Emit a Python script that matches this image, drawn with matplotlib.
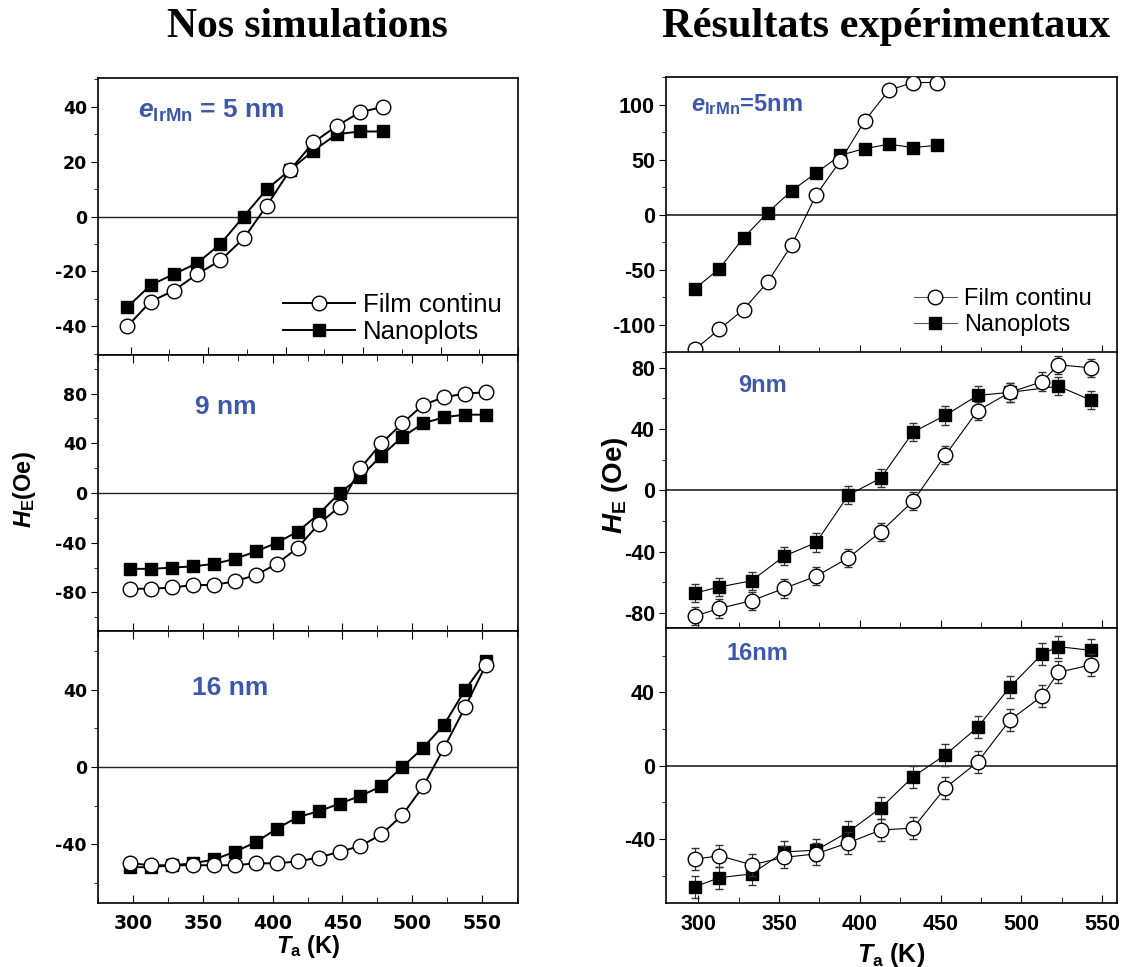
import numpy as np
import matplotlib
matplotlib.use("Agg")
from matplotlib import pyplot as plt
from matplotlib.ticker import MultipleLocator

plt.rcParams['mathtext.fontset'] = 'custom'
plt.rcParams['mathtext.bf'] = 'Liberation Sans:bold'
plt.rcParams['mathtext.bfit'] = 'Liberation Sans:italic:bold'
plt.rcParams['mathtext.it'] = 'Liberation Sans:italic:bold'
plt.rcParams['mathtext.rm'] = 'Liberation Sans:bold'
plt.rcParams['axes.unicode_minus'] = False

BLUE = '#3c58a8'

# --- simulations (left column) ---
t_sim5 = [298, 313, 328, 343, 358, 373, 388, 403, 418, 433, 448, 463]
sim5_film = [-40, -31, -27, -21, -16, -8, 4, 17, 27, 33, 38, 40]
sim5_nano = [-33, -25, -21, -17, -10, 0, 10, 17, 24, 30, 31, 31]

t_sim = [298, 313, 328, 343, 358, 373, 388, 403, 418, 433, 448, 463,
         478, 493, 508, 523, 538, 553]
sim9_film = [-77, -77, -76, -74, -74, -71, -66, -57, -44, -25, -11, 20,
             40, 56, 71, 77, 80, 81]
sim9_nano = [-61, -61, -60, -59, -57, -53, -47, -40, -31, -17, 0, 13,
             30, 45, 56, 61, 63, 63]
sim16_film = [-50, -51, -51, -51, -51, -51, -50, -50, -49, -47, -44, -41,
              -35, -25, -10, 10, 31, 53]
sim16_nano = [-52, -52, -51, -50, -48, -44, -39, -32, -26, -23, -19, -15,
              -10, 0, 10, 22, 40, 55]

# --- experiments (right column) ---
t_exp5 = [298, 313, 328, 343, 358, 373, 388, 403, 418, 433, 448]
exp5_film = [-122, -104, -86, -61, -27, 18, 49, 85, 113, 120, 120]
exp5_nano = [-67, -49, -21, 2, 22, 38, 54, 60, 64, 61, 63]

t_exp = [298, 313, 333, 353, 373, 393, 413, 433, 453, 473, 493, 513, 523, 543]
exp9_film = [-82, -77, -72, -64, -56, -44, -27, -7, 23, 52, 64, 71, 82, 80]
t_exp9_nano = [298, 313, 333, 353, 373, 393, 413, 433, 453, 473, 493, 523, 543]
exp9_nano = [-67, -63, -59, -43, -34, -3, 8, 38, 49, 62, 64, 68, 59]
exp16_film = [-51, -49, -54, -50, -48, -42, -35, -34, -12, 2, 25, 38, 51, 55]
exp16_nano = [-66, -61, -59, -47, -46, -36, -23, -6, 6, 21, 43, 61, 65, 63]
err_exp = 6

fig = plt.figure(figsize=(11.21, 9.67), dpi=100)
H = 967.0
W = 1121.0


def box(x0, x1, y0, y1):
    return [x0 / W, 1 - y1 / H, (x1 - x0) / W, (y1 - y0) / H]


lx0, lx1 = 98, 518
rx0, rx1 = 666, 1117
axL = [fig.add_axes(box(lx0, lx1, 78, 355)),
       fig.add_axes(box(lx0, lx1, 355, 631)),
       fig.add_axes(box(lx0, lx1, 631, 903))]
axR = [fig.add_axes(box(rx0, rx1, 77, 352.5)),
       fig.add_axes(box(rx0, rx1, 352.5, 628.3)),
       fig.add_axes(box(rx0, rx1, 628.3, 903.3))]

sim_line = dict(color='black', lw=1.4)
circ_l = dict(marker='o', ms=10.5, mfc='white', mec='black', mew=1.0)
sq_l = dict(marker='s', ms=9, mfc='black', mec='black', mew=1.0)

ylims_L = [(-50.5, 50.5), (-111, 111), (-70.6, 70.6)]
ymaj_L = [20, 40, 40]
ymin_L = [10, 20, 20]
sim_data = [(t_sim5, sim5_film, sim5_nano), (t_sim, sim9_film, sim9_nano),
            (t_sim, sim16_film, sim16_nano)]

for i, ax in enumerate(axL):
    t, f, n = sim_data[i]
    ax.axhline(0, color='#222222', lw=1.0, zorder=1)
    ax.plot(t, f, label='Film continu', zorder=3, **sim_line, **circ_l)
    ax.plot(t, n, label='Nanoplots', zorder=2, **sim_line, **sq_l)
    ax.set_ylim(*ylims_L[i])
    ax.yaxis.set_major_locator(MultipleLocator(ymaj_L[i]))
    ax.yaxis.set_minor_locator(MultipleLocator(ymin_L[i]))
    ax.xaxis.set_major_locator(MultipleLocator(50))
    ax.xaxis.set_minor_locator(MultipleLocator(25))
    ax.tick_params(axis='y', which='both', direction='out', left=True, right=False)
    ax.tick_params(axis='y', which='major', length=5, labelsize=12.5, pad=3)
    ax.tick_params(axis='y', which='minor', length=3)
    ax.tick_params(axis='x', which='both', direction='in', bottom=True, top=(i > 0))
    ax.tick_params(axis='x', which='major', length=6, labelsize=13.5, pad=8)
    ax.tick_params(axis='x', which='minor', length=4)
    for lab in ax.get_yticklabels() + ax.get_xticklabels():
        lab.set_fontweight('bold')
        lab.set_family('DejaVu Sans')
    for s in ax.spines.values():
        s.set_linewidth(1.2)
    if i < 2:
        ax.tick_params(axis='x', labelbottom=False)

axL[0].set_xlim(279, 550)
axL[1].set_xlim(274.7, 576)
axL[2].set_xlim(274.7, 576)

leg = axL[0].legend(loc='lower right', bbox_to_anchor=(1.0, -0.02), frameon=False,
                    fontsize=18.5, handlelength=2.8, handletextpad=0.3,
                    labelspacing=0.1, borderaxespad=0.25)
for txt in leg.get_texts():
    txt.set_family('Liberation Sans')

axL[0].text(0.095, 0.88, r'$\mathbfit{e}_{\mathbf{IrMn}}$' + ' = 5 nm',
            transform=axL[0].transAxes, color=BLUE, fontsize=19,
            fontweight='bold', family='Liberation Sans', va='center')
axL[1].text(0.23, 0.81, '9 nm', transform=axL[1].transAxes, color=BLUE,
            fontsize=19, fontweight='bold', family='Liberation Sans', va='center')
axL[2].text(0.225, 0.79, '16 nm', transform=axL[2].transAxes, color=BLUE,
            fontsize=19, fontweight='bold', family='Liberation Sans', va='center')

axL[2].set_xlabel(r'$\mathit{T}_{\mathbf{a}}$' + ' (K)', fontsize=17,
                  fontweight='bold', family='Liberation Sans', labelpad=0)
fig.text(25 / W, 1 - 490 / H, r'$\mathit{H}_{\mathbf{E}}$' + '(Oe)', rotation=90,
         fontsize=17, fontweight='bold', family='Liberation Sans',
         ha='center', va='center')

# right column
exp_line = dict(color='black', lw=0.8)
circ_r = dict(marker='o', ms=10.5, mfc='white', mec='black', mew=1.0)
sq_r = dict(marker='s', ms=9, mfc='black', mec='black', mew=1.0)
err_kw = dict(ecolor='#333333', elinewidth=0.8, capsize=3, capthick=0.8)

ylims_R = [(-125, 125), (-90, 90), (-75, 75)]
ymaj_R = [50, 40, 40]
ymin_R = [25, 20, 20]

ax = axR[0]
ax.plot(t_exp5, exp5_film, label='Film continu', zorder=3, **exp_line, **circ_r)
ax.plot(t_exp5, exp5_nano, label='Nanoplots', zorder=2, **exp_line, **sq_r)

ax = axR[1]
ax.errorbar(t_exp, exp9_film, yerr=err_exp, zorder=3, **exp_line, **circ_r, **err_kw)
ax.errorbar(t_exp9_nano, exp9_nano, yerr=err_exp, zorder=2, **exp_line, **sq_r, **err_kw)

ax = axR[2]
ax.errorbar(t_exp, exp16_film, yerr=err_exp, zorder=3, **exp_line, **circ_r, **err_kw)
ax.errorbar(t_exp, exp16_nano, yerr=err_exp, zorder=2, **exp_line, **sq_r, **err_kw)

for i, ax in enumerate(axR):
    ax.axhline(0, color='#222222', lw=1.2, zorder=1)
    ax.set_xlim(280, 559.3)
    ax.set_ylim(*ylims_R[i])
    ax.yaxis.set_major_locator(MultipleLocator(ymaj_R[i]))
    ax.yaxis.set_minor_locator(MultipleLocator(ymin_R[i]))
    ax.xaxis.set_major_locator(MultipleLocator(50))
    ax.xaxis.set_minor_locator(MultipleLocator(25))
    ax.tick_params(axis='y', which='both', direction='out', left=True, right=False)
    ax.tick_params(axis='y', which='major', length=5, labelsize=15.5, pad=3)
    ax.tick_params(axis='y', which='minor', length=3)
    ax.tick_params(axis='x', which='both', direction='in', bottom=True, top=False)
    ax.tick_params(axis='x', which='major', length=6, labelsize=15.5, pad=8)
    ax.tick_params(axis='x', which='minor', length=4)
    for lab in ax.get_yticklabels() + ax.get_xticklabels():
        lab.set_fontweight('bold')
        lab.set_family('Liberation Sans')
    for s in ax.spines.values():
        s.set_linewidth(1.2)
    if i < 2:
        ax.tick_params(axis='x', labelbottom=False)

legR = axR[0].legend(loc='lower right', bbox_to_anchor=(0.98, 0.0), frameon=False,
                     fontsize=17, handlelength=1.8, handletextpad=0.3,
                     labelspacing=0.15, borderaxespad=0.3)
for h in legR.get_lines():
    h.set_color('#555555')
for txt in legR.get_texts():
    txt.set_family('Liberation Sans')

axR[0].text(0.055, 0.90, r'$\mathbfit{e}_{\mathbf{IrMn}}$' + '=5nm',
            transform=axR[0].transAxes, color=BLUE, fontsize=17,
            fontweight='bold', family='Liberation Sans', va='center')
axR[1].text(0.16, 0.88, '9nm', transform=axR[1].transAxes, color=BLUE,
            fontsize=17, fontweight='bold', family='Liberation Sans', va='center')
axR[2].text(0.135, 0.91, '16nm', transform=axR[2].transAxes, color=BLUE,
            fontsize=17, fontweight='bold', family='Liberation Sans', va='center')

axR[2].set_xlabel(r'$\mathit{T}_{\mathbf{a}}$' + ' (K)', fontsize=18,
                  fontweight='bold', family='Liberation Sans', labelpad=4)
fig.text(615 / W, 1 - 485 / H, r'$\mathit{H}_{\mathbf{E}}$' + ' (Oe)', rotation=90,
         fontsize=20, fontweight='bold', family='Liberation Sans',
         ha='center', va='center')

fig.text(307 / W, 1 - 27 / H, 'Nos simulations', fontsize=30, fontweight='bold',
         family='Liberation Serif', ha='center', va='center')
fig.text(886 / W, 1 - 27 / H, 'Résultats expérimentaux', fontsize=30.5,
         fontweight='bold', family='Liberation Serif', ha='center', va='center')

fig.savefig('out.png', dpi=100)
